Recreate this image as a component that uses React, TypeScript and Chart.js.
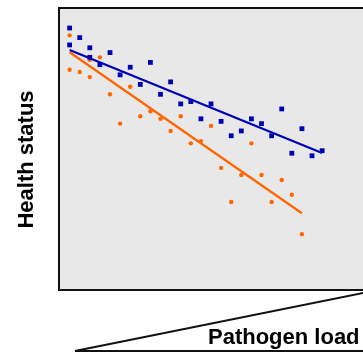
import React, { useEffect, useRef } from "react";
import { Chart, registerables } from "chart.js";

Chart.register(...registerables);

// Pathogen load index (x) and health status (y, 0-100)
const blueX = [0, 0, 1, 2, 2, 3, 4, 5, 6, 7, 8, 9, 10, 11, 12, 13, 14, 15, 16, 17, 18, 19, 20, 21, 22, 23, 24, 25];
const blueY = [92.9, 86.9, 89.5, 85.9, 82.5, 79.9, 84.2, 76.3, 79.0, 72.9, 80.7, 69.4, 73.8, 66.0, 66.8, 60.7, 66.0, 59.8, 54.7, 56.4, 60.7, 59.0, 54.7, 64.2, 48.5, 57.2, 47.6, 49.4];

const orangeX = [0, 0, 1, 2, 2, 3, 4, 5, 6, 7, 8, 9, 10, 11, 12, 13, 14, 15, 16, 17, 18, 19, 20, 21, 22, 23];
const orangeY = [90.3, 78.1, 77.3, 81.6, 75.5, 82.5, 69.4, 59.0, 72.1, 61.6, 63.4, 60.7, 56.4, 61.6, 52.0, 52.8, 58.2, 43.3, 31.2, 40.8, 52.0, 40.8, 31.2, 39.0, 33.8, 19.8];

const blueFitX = [0, 25];
const blueFitY = [85.1, 48.6];
const orangeFitX = [0, 23];
const orangeFitY = [84.3, 27.2];

const xTitle = "Pathogen load";
const yTitle = "Health status";

const BLUE = "#0000b4";
const ORANGE = "#ff6600";

const pts = (xs: number[], ys: number[]) => xs.map((x, i) => ({ x, y: ys[i] }));

const decorPlugin = {
  id: "decor",
  beforeDraw(chart: any) {
    const { ctx, chartArea, width } = chart;
    ctx.save();
    ctx.fillStyle = "#e8e8e8";
    ctx.fillRect(chartArea.left, chartArea.top, width - chartArea.left, chartArea.bottom - chartArea.top);
    ctx.restore();
  },
  afterDraw(chart: any) {
    const { ctx, chartArea, width } = chart;
    ctx.save();
    ctx.strokeStyle = "#111";
    ctx.lineWidth = 2;
    ctx.beginPath();
    ctx.moveTo(width + 2, chartArea.top);
    ctx.lineTo(chartArea.left, chartArea.top);
    ctx.lineTo(chartArea.left, chartArea.bottom);
    ctx.lineTo(width + 2, chartArea.bottom);
    ctx.stroke();

    // wedge
    ctx.lineWidth = 2;
    ctx.beginPath();
    ctx.moveTo(width + 2, 292.6);
    ctx.lineTo(75, 351);
    ctx.lineTo(width + 2, 351);
    ctx.stroke();

    ctx.fillStyle = "#000";
    ctx.font = "bold 22px 'Liberation Sans', Arial, sans-serif";
    ctx.textAlign = "left";
    ctx.textBaseline = "alphabetic";
    ctx.fillText(xTitle, 208, 344);

    ctx.font = "bold 22px 'Liberation Sans', Arial, sans-serif";
    ctx.translate(33, 159.5);
    ctx.rotate(-Math.PI / 2);
    ctx.textAlign = "center";
    ctx.fillText(yTitle, 0, 0);
    ctx.restore();
  },
};

export default function App() {
  const ref = useRef<HTMLCanvasElement | null>(null);
  useEffect(() => {
    if (!ref.current) return;
    const chart = new Chart(ref.current, {
      type: "scatter",
      data: {
        datasets: [
          {
            type: "line",
            data: pts(blueFitX, blueFitY),
            borderColor: BLUE,
            borderWidth: 2.3,
            pointRadius: 0,
            fill: false,
          } as any,
          {
            type: "line",
            data: pts(orangeFitX, orangeFitY),
            borderColor: ORANGE,
            borderWidth: 2.3,
            pointRadius: 0,
            fill: false,
          } as any,
          {
            data: pts(blueX, blueY),
            pointStyle: "rect",
            pointRadius: 3.4,
            backgroundColor: BLUE,
            borderWidth: 0,
          },
          {
            data: pts(orangeX, orangeY),
            pointStyle: "circle",
            pointRadius: 2.2,
            backgroundColor: ORANGE,
            borderWidth: 0,
          },
        ],
      },
      options: {
        responsive: false,
        animation: false,
        layout: { padding: { left: 59, top: 8, right: 0, bottom: 66 } },
        plugins: { legend: { display: false }, tooltip: { enabled: false } },
        scales: {
          x: { type: "linear", min: -1.05, max: 28.65, display: false },
          y: { type: "linear", min: 0, max: 100, display: false },
        },
      },
      plugins: [decorPlugin],
    });
    return () => chart.destroy();
  }, []);
  return (
    <div style={{ position: "fixed", left: 0, top: 0, width: 363, height: 356, background: "#fff" }}>
      <canvas ref={ref} width={363} height={356} />
    </div>
  );
}
